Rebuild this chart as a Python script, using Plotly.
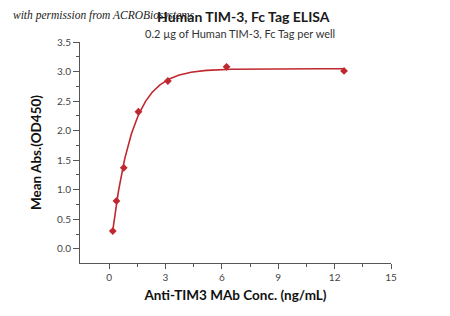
import numpy as np
import plotly.graph_objects as go

# Data
conc = [0.195, 0.39, 0.78, 1.56, 3.125, 6.25, 12.5]
od450 = [0.30, 0.81, 1.37, 2.32, 2.84, 3.08, 3.01]
x_ticks = [0, 3, 6, 9, 12, 15]
y_ticks = [0.0, 0.5, 1.0, 1.5, 2.0, 2.5, 3.0, 3.5]

title_text = "Human TIM-3, Fc Tag ELISA"
subtitle_text = "0.2 µg of Human TIM-3, Fc Tag per well"
x_title = "Anti-TIM3 MAb Conc. (ng/mL)"
y_title = "Mean Abs.(OD450)"
watermark = "with permission from ACROBiosystems"

RED = "#c0282f"

# saturation-curve fit (Levenberg-Marquardt) of the measured points
xd = np.array(conc, dtype=float)
yd = np.array(od450, dtype=float)


def model(p, x):
    a, logk, d = p
    return a + (d - a) * (1.0 - np.exp(-np.exp(logk) * x))


p = np.array([0.0, np.log(0.9), 3.0])
lam = 1e-2
for _ in range(500):
    r = yd - model(p, xd)
    J = np.zeros((len(xd), 3))
    for k in range(3):
        dp = np.zeros(3)
        dp[k] = 1e-6
        J[:, k] = (model(p + dp, xd) - model(p - dp, xd)) / 2e-6
    A = J.T @ J
    g = J.T @ r
    step = np.linalg.solve(A + lam * np.diag(np.diag(A) + 1e-9), g)
    pn = p + step
    if np.sum((yd - model(pn, xd)) ** 2) < np.sum(r ** 2):
        p = pn
        lam *= 0.5
    else:
        lam *= 4
xf = np.linspace(min(conc), max(conc), 300)
yf = model(p, xf)

fig = go.Figure()
fig.add_trace(go.Scatter(x=xf, y=yf, mode="lines",
                         line=dict(color=RED, width=1.6), hoverinfo="skip",
                         showlegend=False))
fig.add_trace(go.Scatter(x=conc, y=od450, mode="markers",
                         marker=dict(symbol="diamond", size=6, color=RED),
                         showlegend=False))

SANS = "Lato, Open Sans, sans-serif"
axis_font = dict(family=SANS, size=10, color="#444")
fig.update_layout(
    width=450, height=316,
    margin=dict(l=80, r=59, t=42, b=53),
    paper_bgcolor="white", plot_bgcolor="white",
    xaxis=dict(range=[-1.55, 15], tickvals=x_ticks, ticktext=[str(v) for v in x_ticks],
               showgrid=False, zeroline=False, showline=True, linecolor="#555", linewidth=1,
               ticks="outside", ticklen=5, tickcolor="#555", tickfont=axis_font,
               minor=dict(ticks="outside", ticklen=3, tickcolor="#555", tickvals=[1.5, 4.5, 7.5, 10.5, 13.5]),
               title=dict(text="<b>" + x_title + "</b>", standoff=8,
                          font=dict(family=SANS, size=13.5, color="#111"))),
    yaxis=dict(range=[-0.24, 3.5], tickvals=y_ticks, ticktext=["%.1f" % v for v in y_ticks],
               showgrid=False, zeroline=False, showline=True, linecolor="#555", linewidth=1,
               ticks="outside", ticklen=6, tickcolor="#555", tickfont=axis_font,
               minor=dict(ticks="outside", ticklen=3, tickcolor="#555",
                          tickvals=[0.25, 0.75, 1.25, 1.75, 2.25, 2.75, 3.25]),
               title=dict(text="<b>" + y_title + "</b>", standoff=12,
                          font=dict(family=SANS, size=13.5, color="#111"))),
    annotations=[
        dict(text="<b>" + title_text + "</b>", x=243, y=316 - 17, showarrow=False,
             font=dict(family=SANS, size=14, color="#1a1a1a")),
        dict(text=subtitle_text, x=240, y=316 - 34, showarrow=False,
             font=dict(family=SANS, size=11, color="#333")),
        dict(text="<i>" + watermark + "</i>", x=11, y=316 - 16, xanchor="left", showarrow=False,
             font=dict(family="Liberation Serif, DejaVu Serif, serif", size=11.5, color="#222")),
    ],
)
# convert pixel positions of annotations to paper coords
W, H = 450, 316
L, R, T, B = 80, 59, 42, 53
pw, ph = W - L - R, H - T - B
new_ann = []
for a in fig.layout.annotations:
    a.x = (a.x - L) / pw
    a.y = (a.y - B) / ph
    a.xref = "paper"
    a.yref = "paper"
    a.yanchor = "middle"
    new_ann.append(a)
fig.layout.annotations = new_ann

fig.write_html("out.html")
